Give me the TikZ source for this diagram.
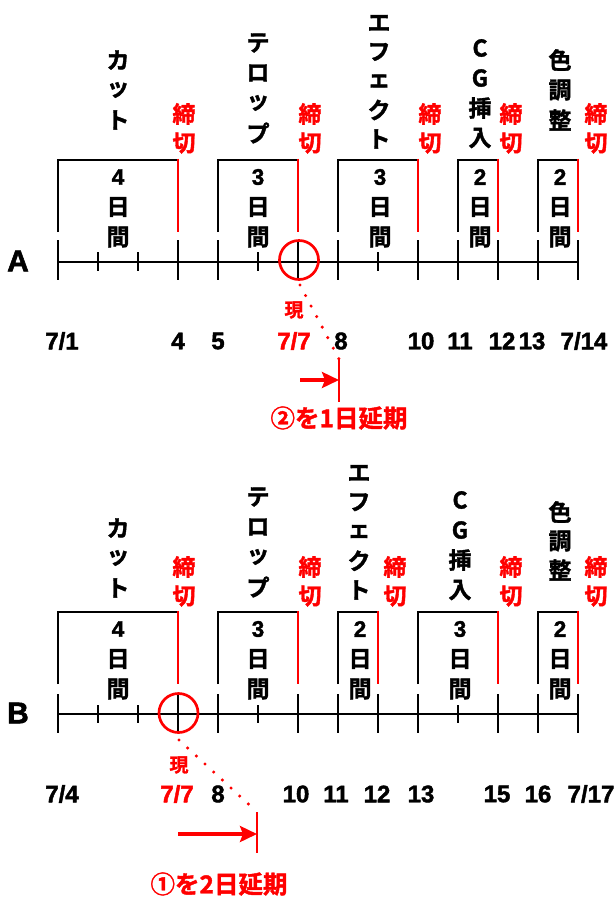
\documentclass[tikz,border=0pt]{standalone}
\usepackage{fontspec}
\setmainfont{Liberation Sans}[BoldFeatures={FakeBold=1.8}]
\newfontfamily\jpf{Noto Sans CJK JP}[BoldFont={Noto Sans CJK JP Bold},BoldFeatures={FakeBold=1.6}]
\usetikzlibrary{arrows.meta}
\tikzset{
  ln/.style={line width=2.9pt},
  rln/.style={line width=2.9pt, red},
  jch/.style={font=\jpf\bfseries\fontsize{23}{23}\selectfont, inner sep=0pt},
  rch/.style={jch, text=red},
  smallr/.style={font=\jpf\bfseries\fontsize{19}{19}\selectfont, inner sep=0pt, text=red},
  dt/.style={font=\bfseries\fontsize{24}{24}\selectfont, inner sep=0pt},
  rdt/.style={dt, text=red},
  num/.style={font=\bfseries\fontsize{22.5}{22.5}\selectfont, inner sep=0pt},
  big/.style={font=\bfseries\fontsize{30}{30}\selectfont, inner sep=0pt},
  nowc/.style={circle, draw=red, line width=2.7pt, minimum size=39pt, inner sep=0pt},
  dots/.style={red, line width=3.4pt, line cap=round, dash pattern=on 0pt off 11.9pt},
  arr/.style={red, line width=3.5pt, -{Stealth[length=17pt,width=16pt,inset=3pt]}},
  lbl/.style={font=\jpf\bfseries\fontsize{24.5}{24.5}\selectfont, inner sep=0pt, text=red},
}
\newcommand\vstack[5]{\foreach \ch [count=\i] in {#5} {\node[jch] (#1\i) at (#2,{#3+(\i-1)*#4}) {\ch};}}
\newcommand\deadline[3]{%
  \node[rch] (#1a) at (#2,#3) {締};
  \node[rch] (#1b) at (#2,{#3+29}) {切};}
\newcommand\daybox[6]{%
  \coordinate (#1bl) at (#2,{#4+72});
  \coordinate (#1tl) at (#2,#4);
  \coordinate (#1tr) at ({#3+1.45},#4);
  \coordinate (#1rt) at (#3,{#4-1.45});
  \coordinate (#1br) at (#3,{#4+72});
  \draw[ln, line join=miter] (#1bl) -- (#1tl) -- (#1tr);
  \draw[rln] (#1rt) -- (#1br);
  \node[num] (#1n) at (#6,{#4+17}) {#5};
  \node[jch] (#1d) at (#6,{#4+47}) {日};
  \node[jch] (#1k) at (#6,{#4+77}) {間};}
\begin{document}
\begin{tikzpicture}[x=1pt,y=-1pt]
\useasboundingbox (0,0) rectangle (615,898);
% ================= A =================
\node[big] (labA) at (18,261) {A};
\coordinate (AL) at (58,262); \coordinate (AR) at (578,262);
\draw[ln] (AL) -- (AR);
\foreach \t in {58,178,218,298,338,418,458,498,538,578} \draw[ln] (\t,240) -- (\t,280);
\foreach \t in {98,138,258,378} \draw[ln] (\t,252) -- (\t,271);
\node[nowc] (Acirc) at (299,260) {};
\vstack{Acut}{118}{60}{30}{カ,ッ,ト}
\vstack{Atel}{258}{43}{30}{テ,ロ,ッ,プ}
\vstack{Aeff}{379}{23}{29}{エ,フ,ェ,ク,ト}
\vstack{Acg}{480}{48}{30}{C,G,挿,入}
\vstack{Acol}{560}{60}{30}{色,調,整}
\deadline{Ad1}{184}{114}
\deadline{Ad2}{310}{114}
\deadline{Ad3}{430}{114}
\deadline{Ad4}{511}{114}
\deadline{Ad5}{596}{114}
\daybox{Ab1}{58}{178}{160}{4}{118}
\daybox{Ab2}{218}{298}{160}{3}{258}
\daybox{Ab3}{338}{418}{160}{3}{380}
\daybox{Ab4}{458}{498}{160}{2}{480}
\daybox{Ab5}{538}{578}{160}{2}{560}
\node[dt] (Adt1) at (62,341) {7/1};
\node[dt] (Adt4) at (178,341) {4};
\node[dt] (Adt5) at (218,341) {5};
\node[rdt] (Adt7) at (294,341) {7/7};
\node[dt] (Adt8) at (341,341) {8};
\node[dt] (Adt10) at (421,341) {10};
\node[dt] (Adt11) at (460,341) {11};
\node[dt] (Adt12) at (502,341) {12};
\node[dt] (Adt13) at (532,341) {13};
\node[dt] (Adt14) at (584,341) {7/14};
\node[smallr] (Anow) at (294,310) {現};
\coordinate (Ad0) at (300,285); \coordinate (Abt) at (339,359); \coordinate (Abb) at (339,402);
\draw[dots] (Ad0) -- (Abt);
\draw[rln] (Abt) -- (Abb);
\coordinate (Aas) at (300,380); \coordinate (Aae) at (339,380);
\draw[arr] (Aas) -- (Aae);
\node[lbl] (Alab) at (339,418) {②を1日延期};
% ================= B =================
\node[big] (labB) at (18,713) {B};
\coordinate (BL) at (58,714); \coordinate (BR) at (578,714);
\draw[ln] (BL) -- (BR);
\foreach \t in {58,178,218,298,338,378,418,498,538,578} \draw[ln] (\t,694) -- (\t,733);
\foreach \t in {98,138,258,458} \draw[ln] (\t,705) -- (\t,723);
\node[nowc] (Bcirc) at (178.5,713) {};
\vstack{Bcut}{118}{528}{30}{カ,ッ,ト}
\vstack{Btel}{258}{497}{30}{テ,ロ,ッ,プ}
\vstack{Beff}{359}{473}{29.25}{エ,フ,ェ,ク,ト}
\vstack{Bcg}{460}{500}{30}{C,G,挿,入}
\vstack{Bcol}{560}{512}{29}{色,調,整}
\deadline{Bd1}{184}{567}
\deadline{Bd2}{310}{567}
\deadline{Bd3}{395}{567}
\deadline{Bd4}{511}{567}
\deadline{Bd5}{596}{567}
\daybox{Bb1}{58}{178}{612}{4}{118}
\daybox{Bb2}{218}{298}{612}{3}{258}
\daybox{Bb3}{338}{378}{612}{2}{360}
\daybox{Bb4}{418}{498}{612}{3}{460}
\daybox{Bb5}{538}{578}{612}{2}{560}
\node[dt] (Bdt4) at (62,794) {7/4};
\node[rdt] (Bdt7) at (177,794) {7/7};
\node[dt] (Bdt8) at (218,794) {8};
\node[dt] (Bdt10) at (296,794) {10};
\node[dt] (Bdt11) at (336,794) {11};
\node[dt] (Bdt12) at (377,794) {12};
\node[dt] (Bdt13) at (421,794) {13};
\node[dt] (Bdt15) at (497,794) {15};
\node[dt] (Bdt16) at (538,794) {16};
\node[dt] (Bdt17) at (591,794) {7/17};
\node[smallr] (Bnow) at (179,765) {現};
\coordinate (Bd0) at (179,740); \coordinate (Bbt) at (257,812); \coordinate (Bbb) at (257,853);
\draw[dots, dash pattern=on 0pt off 11.8pt] (Bd0) -- (Bbt);
\draw[rln] (Bbt) -- (Bbb);
\coordinate (Bas) at (178,834); \coordinate (Bae) at (257,834);
\draw[arr] (Bas) -- (Bae);
\node[lbl] (Blab) at (219,884) {①を2日延期};
\end{tikzpicture}
\end{document}
